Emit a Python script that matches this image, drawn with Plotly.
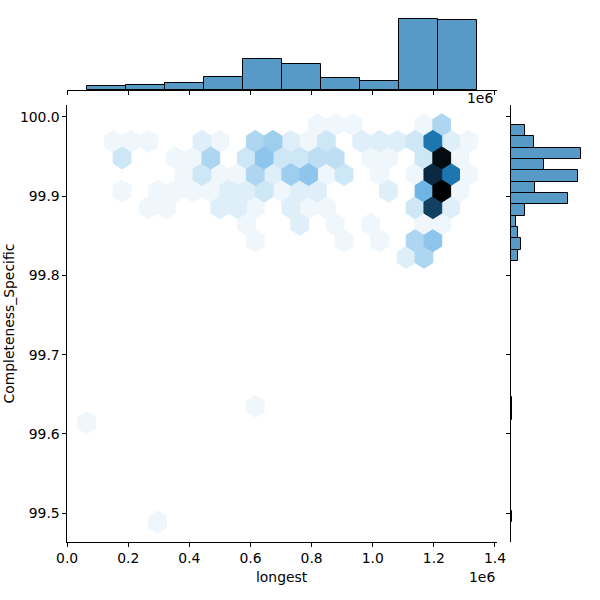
import colorsys
import numpy as np
import plotly.graph_objects as go
from plotly.colors import sample_colorscale

# ---------------- data ----------------
# extent of the two variables (hexbin grid spans data min..max)
x_min, x_max = 63500.0, 1342000.0        # longest
y_min, y_max = 99.4888, 99.9900          # Completeness_Specific
gridsize = 22

# hex cells: u = half-column index, v = half-row index, count of points
hex_u = [26, 28, 30, 38, 40,
         3, 5, 7, 13, 15, 19, 21, 23, 25, 27, 31, 33, 35, 37, 39, 41, 43,
         4, 10, 12, 14, 18, 20, 22, 24, 26, 28, 32, 34, 38, 40, 42,
         11, 13, 15, 17, 19, 21, 23, 25, 27, 29, 33, 37, 39, 41, 43,
         4, 8, 10, 12, 14, 16, 18, 20, 22, 24, 26, 34, 38, 40, 42,
         7, 9, 15, 17, 19, 23, 25, 27, 37, 39, 41,
         18, 24, 28, 32, 38, 40,
         19, 29, 33, 37, 39,
         36, 38,
         0, 19, 8]
hex_v = [24] * 5 + [23] * 17 + [22] * 15 + [21] * 15 + [20] * 15 + [19] * 11 + \
        [18] * 6 + [17] * 5 + [16] * 2 + [6, 7, 0]
hex_count = [2, 2, 2, 2, 6,
             2, 2, 2, 3, 2, 6, 7, 3, 2, 4, 3, 3, 3, 4, 17, 3, 2,
             4, 2, 2, 6, 4, 8, 4, 4, 5, 5, 2, 2, 4, 27, 2,
             2, 4, 2, 2, 6, 3, 7, 8, 2, 4, 2, 2, 24, 17, 2,
             2, 2, 2, 2, 2, 3, 3, 4, 2, 3, 3, 3, 10, 28, 2,
             2, 2, 3, 3, 2, 3, 2, 2, 4, 22, 3,
             2, 3, 2, 2, 2, 2,
             2, 2, 2, 6, 8,
             3, 6,
             2, 2, 2]
count_norm_min = 1   # single-point cells map to the white end of the colormap

# marginal histograms
x_hist_counts = [6, 8, 12, 22, 52, 44, 20, 15, 120, 118]
y_hist_counts = [1, 0, 0, 0, 0, 0, 0, 0, 0, 1, 1, 0, 0, 0, 0, 0, 0, 0, 0, 0, 0, 0, 0,
                 9, 12, 9, 6, 17, 70, 30, 83, 41, 87, 28, 17]

x_tick_vals = [0, 200000, 400000, 600000, 800000, 1000000, 1200000, 1400000]
x_tick_text = ["0.0", "0.2", "0.4", "0.6", "0.8", "1.0", "1.2", "1.4"]
y_tick_vals = [99.5, 99.6, 99.7, 99.8, 99.9, 100.0]
y_tick_text = ["99.5", "99.6", "99.7", "99.8", "99.9", "100.0"]

# ---------------- derived geometry ----------------
W = H = 600.0
nx = gridsize
ny = int(nx / np.sqrt(3))
sx = (x_max - x_min) / nx
sy = (y_max - y_min) / ny
xr = [x_min - 0.05 * (x_max - x_min), x_max + 0.05 * (x_max - x_min)]
yr = [y_min - 0.05 * (y_max - y_min), y_max + 0.05 * (y_max - y_min)]

# seaborn-style colormap: C0 hue, lightness 1 -> 0
h, l, s = colorsys.rgb_to_hls(31 / 255, 119 / 255, 180 / 255)
cols = [colorsys.hls_to_rgb(h, li, s) for li in np.linspace(1, 0, 12)]
cscale = [[i / 11, "rgb(%d,%d,%d)" % tuple(round(c * 255) for c in rgb)]
          for i, rgb in enumerate(cols)]
vmax = max(hex_count)

hex_off = [(0.5, -1 / 6), (0.5, 1 / 6), (0, 1 / 3), (-0.5, 1 / 6), (-0.5, -1 / 6), (0, -1 / 3)]

fig = go.Figure()

for c in sorted(set(hex_count)):
    t = (c - count_norm_min) / (vmax - count_norm_min)
    col = sample_colorscale(cscale, [t])[0]
    xs, ys = [], []
    for u, v, k in zip(hex_u, hex_v, hex_count):
        if k != c:
            continue
        cx = x_min + u * sx / 2
        cy = y_min + v * sy / 2
        pts = [(cx + dx * sx, cy + dy * sy) for dx, dy in hex_off]
        pts.append(pts[0])
        xs += [p[0] for p in pts] + [None]
        ys += [p[1] for p in pts] + [None]
    fig.add_trace(go.Scatter(x=xs, y=ys, mode="lines", fill="toself",
                             fillcolor=col, line=dict(color=col, width=1),
                             hoverinfo="skip", showlegend=False,
                             xaxis="x", yaxis="y"))

bar_fill = "rgba(31,119,180,0.75)"
xb = (x_max - x_min) / len(x_hist_counts)
x_centers = [x_min + (i + 0.5) * xb for i in range(len(x_hist_counts))]
fig.add_trace(go.Bar(x=x_centers, y=x_hist_counts, width=xb,
                     marker=dict(color=bar_fill, line=dict(color="black", width=1)),
                     showlegend=False, xaxis="x2", yaxis="y2", hoverinfo="skip"))

yb = (y_max - y_min) / len(y_hist_counts)
y_centers = [y_min + (i + 0.5) * yb for i in range(len(y_hist_counts))]
fig.add_trace(go.Bar(y=y_centers, x=y_hist_counts, width=yb, orientation="h",
                     marker=dict(color=bar_fill, line=dict(color="black", width=1)),
                     showlegend=False, xaxis="x3", yaxis="y3", hoverinfo="skip"))

L, R, T, B = 67, 496.8, 105, 542
TH_top, TH_bot = 15, 90
RH_l, RH_r = 511, 585
font = dict(family="DejaVu Sans", size=13.9, color="black")
axcommon = dict(showgrid=False, zeroline=False, ticks="outside", ticklen=3.5,
                tickwidth=1.1, tickcolor="black", showline=True, linewidth=1.1,
                linecolor="black", tickfont=font, automargin=False)

fig.update_layout(
    width=600, height=600, autosize=False, margin=dict(l=0, r=0, t=0, b=0, pad=0),
    paper_bgcolor="white", plot_bgcolor="white", bargap=0,
    xaxis=dict(domain=[L / W, R / W], range=xr, tickvals=x_tick_vals,
               ticktext=x_tick_text, anchor="y", **axcommon),
    yaxis=dict(domain=[1 - B / H, 1 - T / H], range=yr, tickvals=y_tick_vals,
               ticktext=y_tick_text, anchor="x", **axcommon),
    xaxis2=dict(domain=[L / W, R / W], range=xr, tickvals=x_tick_vals,
                showticklabels=False, anchor="y2", **axcommon),
    yaxis2=dict(domain=[1 - TH_bot / H, 1 - TH_top / H],
                range=[0, 1.05 * max(x_hist_counts)], visible=False, anchor="x2"),
    xaxis3=dict(domain=[RH_l / W, RH_r / W], range=[0, 1.05 * max(y_hist_counts)],
                visible=False, anchor="y3"),
    yaxis3=dict(domain=[1 - B / H, 1 - T / H], range=yr, tickvals=y_tick_vals,
                showticklabels=False, anchor="x3", **axcommon),
    annotations=[
        dict(text="longest", x=(L + R) / 2 / W, y=1 - 577 / H, xref="paper",
             yref="paper", showarrow=False, font=font, xanchor="center", yanchor="middle"),
        dict(text="Completeness_Specific", x=8 / W, y=1 - (T + B) / 2 / H,
             xref="paper", yref="paper", showarrow=False, font=font, textangle=-90,
             xanchor="center", yanchor="middle"),
        dict(text="1e6", x=R / W, y=1 - 577 / H, xref="paper", yref="paper",
             showarrow=False, font=font, xanchor="right", yanchor="middle"),
        dict(text="1e6", x=495 / W, y=1 - 98 / H, xref="paper", yref="paper",
             showarrow=False, font=font, xanchor="right", yanchor="middle"),
    ],
)

fig.write_html("out.html", config={"responsive": False})
